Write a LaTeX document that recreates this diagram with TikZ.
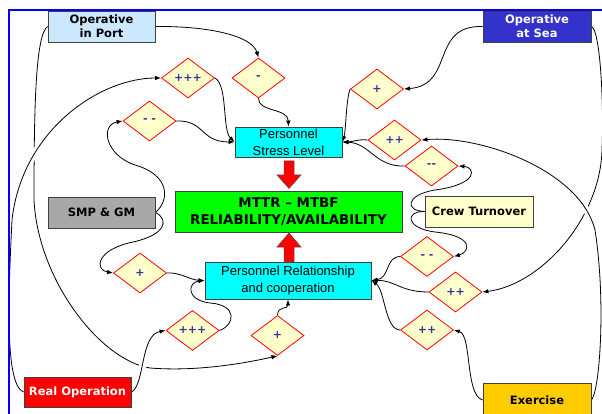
\documentclass[tikz,border=0pt]{standalone}
\usepackage{fontspec}
\setmainfont{Liberation Sans}
\newfontfamily\dvs{DejaVu Sans}
\usetikzlibrary{shapes.geometric,arrows.meta}
\pgfdeclarelayer{background}
\pgfsetlayers{background,main}
\definecolor{portblue}{HTML}{CCE8FF}
\definecolor{seablue}{HTML}{3333CC}
\definecolor{dmfill}{HTML}{FFFFCC}
\definecolor{dmtext}{HTML}{333399}
\definecolor{smpgray}{HTML}{A8A8A8}
\definecolor{exgold}{HTML}{FFCC00}
\definecolor{frameblue}{HTML}{0000FF}
\definecolor{boxcyan}{HTML}{00FFFF}
\definecolor{boxgreen}{HTML}{00FF00}
\definecolor{boxred}{HTML}{FF0000}
\begin{document}
\begin{tikzpicture}[x=1pt,y=-1pt,
  box/.style={draw=black!75, line width=0.9pt, inner sep=0pt, align=center,
    font=\dvs\bfseries\fontsize{11.5}{14}\selectfont},
  cbox/.style={draw=black!75, line width=0.9pt, inner sep=0pt, align=center, fill=boxcyan,
    font=\fontsize{13}{17}\selectfont},
  dm/.style={diamond, draw=red, line width=0.8pt, fill=dmfill, inner sep=0pt,
    minimum width=53pt, minimum height=40pt, text=dmtext,
    font=\dvs\bfseries\fontsize{11}{12}\selectfont},
  conn/.style={draw=black, line width=0.8pt, -{Latex[length=6pt,width=4.5pt]}},
  halo/.style={preaction={draw=white, line width=7pt, -}},
  bigarrow/.style={fill=boxred, draw=black!70, line width=0.5pt}
]
\useasboundingbox (0,0) rectangle (602,414);

% boxes
\node[box, fill=portblue, minimum width=107pt, minimum height=31pt] (inport) at (101.5,26.5) {Operative\\in Port};
\node[box, fill=seablue, text=white, minimum width=108pt, minimum height=31pt] (atsea) at (537,26.5) {Operative\\at Sea};
\node[cbox, minimum width=107pt, minimum height=30pt] (stress) at (288.5,142) {Personnel\\Stress Level};
\node[box, fill=boxgreen, minimum width=227pt, minimum height=41pt,
  font=\dvs\bfseries\fontsize{13.4}{17}\selectfont] (mttr) at (288.5,211.5) {MTTR – MTBF\\RELIABILITY/AVAILABILITY};
\node[cbox, minimum width=166pt, minimum height=37pt] (rel) at (288,280.5) {Personnel Relationship\\and cooperation};
\node[box, fill=smpgray, minimum width=107pt, minimum height=31pt] (smp) at (101.5,212.5) {SMP \& GM};
\node[box, fill=dmfill, minimum width=108pt, minimum height=31pt] (crew) at (479,211.5) {Crew Turnover};
\node[box, fill=boxred, text=white, minimum width=107pt, minimum height=30pt] (realop) at (77.5,392) {Real Operation};
\node[box, fill=exgold, minimum width=108pt, minimum height=34pt] (exercise) at (537,400) {Exercise};

% diamonds
\node[dm] (d1) at (188,78) {+++};
\node[dm] (d2) at (258.5,78) {-};
\node[dm] (d3) at (149.5,121) {- -};
\node[dm] (d4) at (377,89) {+};
\node[dm] (d5) at (394.5,140) {++};
\node[dm] (d6) at (431.5,166) {-{}-};
\node[dm] (d7) at (427,256.5) {- -};
\node[dm] (d8) at (455.5,292) {++};
\node[dm] (d9) at (427,330) {++};
\node[dm] (d10) at (140,273) {+};
\node[dm] (d11) at (192.5,330.5) {+++};
\node[dm] (d12) at (277.5,335.5) {+};

% big red arrows
\draw[bigarrow] (284,161) -- (294,161) -- (294,175) -- (301,175) -- (289,188.5) -- (277,175) -- (284,175) -- cycle;
\draw[bigarrow] (284,262) -- (294,262) -- (294,247) -- (301,247) -- (289,233) -- (277,247) -- (284,247) -- cycle;

\begin{pgfonlayer}{background}
\fill[white] (0,0) rectangle (602,414);
% long connectors that get crossed
\draw[conn] (inport.west) .. controls (36,35) and (34,100) .. (34,200)
   .. controls (38,280) and (100,360) .. (150,368)
   .. controls (200,372) and (250,362) .. (d12.south);
\draw[conn] (atsea.east) .. controls (600,30) and (604,100) .. (602,150)
   .. controls (600,220) and (540,285) .. (d8.east);
% crossing ones on top
\draw[conn, halo] (realop.west) .. controls (5,385) and (8,300) .. (12,220)
   .. controls (22,130) and (100,78) .. (d1.west);
\draw[conn, halo] (realop.east) .. controls (145,385) and (140,335) .. (d11.west);
\draw[conn, halo] (exercise.east) .. controls (600,390) and (606,300) .. (595,230)
   .. controls (580,170) and (480,135) .. (d5.east);
% top left
\draw[conn] (inport.east) .. controls (210,26) and (252,36) .. (d2.north);
\draw[conn] (d2.south) .. controls (258,112) and (288,108) .. (stress.north);
\draw[conn] (d1.east) .. controls (228,85) and (222,130) .. (stress.west);
\draw[conn] (d3.east) .. controls (205,120) and (200,142) .. (stress.west);
\draw[conn] (smp.east) .. controls (170,200) and (170,175) .. (135,165)
   .. controls (105,155) and (100,125) .. (d3.west);
\draw[conn] (smp.east) .. controls (170,220) and (165,235) .. (133,242)
   .. controls (95,250) and (95,270) .. (d10.west);
\draw[conn] (d10.east) .. controls (180,272) and (190,280) .. (rel.west);
\draw[conn] (d11.east) .. controls (235,325) and (238,305) .. (210,303)
   .. controls (185,300) and (188,282) .. (rel.west);
\draw[conn] (d12.north) .. controls (278,305) and (288,310) .. (rel.south);
% right side
\draw[conn] (atsea.west) .. controls (430,25) and (455,85) .. (d4.east);
\draw[conn] (d4.west) .. controls (346,100) and (346,130) .. (stress.east);
\draw[conn] (d5.west) .. controls (358,139) and (352,142) .. (stress.east);
\draw[conn] (d6.west) .. controls (375,167) and (370,143) .. (stress.east);
\draw[conn] (crew.west) .. controls (405,211) and (405,195) .. (435,190)
   .. controls (480,184) and (475,167) .. (d6.east);
\draw[conn] (crew.west) .. controls (405,211) and (405,228) .. (435,232)
   .. controls (475,236) and (470,252) .. (d7.east);
\draw[conn] (d7.west) .. controls (385,257) and (390,278) .. (rel.east);
\draw[conn] (d8.west) .. controls (400,292) and (395,280) .. (rel.east);
\draw[conn] (d9.west) .. controls (385,330) and (385,290) .. (rel.east);
\draw[conn] (exercise.west) .. controls (465,395) and (472,335) .. (d9.east);
\end{pgfonlayer}

% blue frame
\draw[frameblue, line width=2pt] (9,414) -- (9,10) -- (602,10);
\end{tikzpicture}
\end{document}
